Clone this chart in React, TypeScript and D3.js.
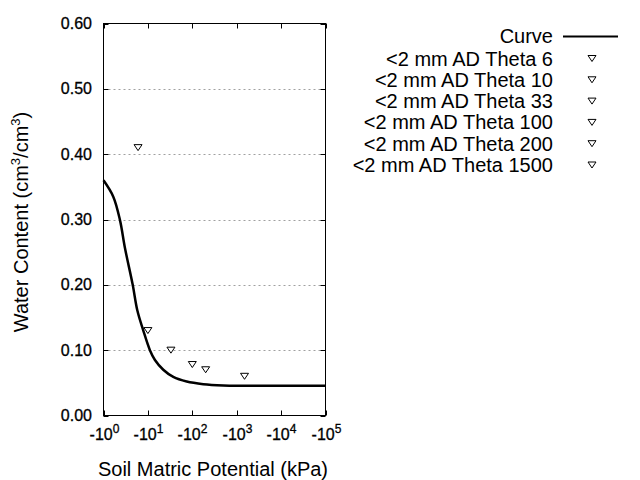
import React from "react";
import * as d3 from "d3";

const curveH = [1, 1.66, 2.35, 3.05, 4.55, 5.77, 7.88, 11.1, 14.4, 22.2, 37.3, 74.8, 177, 499, 1180, 100000];
const curveTheta = [0.36, 0.335, 0.299, 0.256, 0.2, 0.161, 0.13, 0.1, 0.085, 0.07, 0.059, 0.052, 0.048, 0.046, 0.0455, 0.0455];

const pointH = [6, 10, 33, 100, 200, 1500];
const pointTheta = [0.41, 0.13, 0.1, 0.078, 0.07, 0.06];

const legendLabels = [
  "<2 mm AD Theta 6",
  "<2 mm AD Theta 10",
  "<2 mm AD Theta 33",
  "<2 mm AD Theta 100",
  "<2 mm AD Theta 200",
  "<2 mm AD Theta 1500",
];

const xTickExps = [0, 1, 2, 3, 4, 5];
const yTicks = [0, 0.1, 0.2, 0.3, 0.4, 0.5, 0.6];

const FONT = "'Liberation Sans', Arial, sans-serif";

export default function App() {
  const left = 103.5, right = 325.5, top = 23.5, bottom = 415.5;
  const x = d3.scaleLog().domain([1, 1e5]).range([left, right]);
  const y = d3.scaleLinear().domain([0, 0.6]).range([bottom, top]);
  const line = d3
    .line<number>()
    .x((_, i) => x(curveH[i]))
    .y((d) => y(d))
    .curve(d3.curveCatmullRom.alpha(0.5));

  const tri = (cx: number, cy: number) =>
    `M${cx - 4},${cy - 3}L${cx + 4},${cy - 3}L${cx},${cy + 3}Z`;

  return (
    <svg width={640} height={480} style={{ position: "absolute", left: 0, top: 0, background: "#fff" }} fontFamily={FONT}>
      <rect width={640} height={480} fill="#fff" />
      {yTicks.slice(1, 6).map((t) => (
        <line key={"g" + t} x1={left} x2={right} y1={Math.round(y(t)) + 0.5} y2={Math.round(y(t)) + 0.5} stroke="#a0a0a0" strokeDasharray="2,3" strokeWidth={1} />
      ))}
      {yTicks.map((t) => (
        <g key={"y" + t}>
          <line x1={left} x2={left + 5} y1={Math.round(y(t)) + 0.5} y2={Math.round(y(t)) + 0.5} stroke="#000" />
          <line x1={right - 5} x2={right} y1={Math.round(y(t)) + 0.5} y2={Math.round(y(t)) + 0.5} stroke="#000" />
          <text x={92} y={y(t) + 5.5} textAnchor="end" fontSize={16} fill="#000" stroke="#000" strokeWidth={0.3}>
            {t.toFixed(2)}
          </text>
        </g>
      ))}
      {xTickExps.map((e) => {
        const px = Math.round(x(Math.pow(10, e))) + 0.5;
        return (
          <g key={"x" + e}>
            <line x1={px} x2={px} y1={bottom} y2={bottom - 5} stroke="#000" />
            <line x1={px} x2={px} y1={top} y2={top + 5} stroke="#000" />
            <text x={px} y={440} textAnchor="middle" fontSize={16} fill="#000" stroke="#000" strokeWidth={0.3}>
              -10
              <tspan dy={-7} fontSize={12}>{e}</tspan>
            </text>
          </g>
        );
      })}
      <rect x={left} y={top} width={right - left} height={bottom - top} fill="none" stroke="#000" strokeWidth={1} />
      <path d={line(curveTheta) || ""} fill="none" stroke="#000" strokeWidth={2.5} />
      {pointH.map((h, i) => (
        <path key={"p" + i} d={tri(x(h), y(pointTheta[i]))} fill="#fff" stroke="#000" strokeWidth={1} />
      ))}
      <text x={213} y={476} textAnchor="middle" fontSize={20} fill="#000">
        Soil Matric Potential (kPa)
      </text>
      <text transform="translate(28,222) rotate(-90)" textAnchor="middle" fontSize={20} fill="#000">
        Water Content (cm<tspan dy={-8} fontSize={13}>3</tspan>
        <tspan dy={8}>/cm</tspan>
        <tspan dy={-8} fontSize={13}>3</tspan>
        <tspan dy={8}>)</tspan>
      </text>
      <text x={553} y={43} textAnchor="end" fontSize={20} fill="#000">Curve</text>
      <line x1={563} x2={618} y1={36.5} y2={36.5} stroke="#000" strokeWidth={2} />
      {legendLabels.map((l, i) => {
        const cy = 58.5 + i * 21.3;
        return (
          <g key={"l" + i}>
            <text x={553} y={cy + 7} textAnchor="end" fontSize={20} fill="#000">{l}</text>
            <path d={tri(592, cy)} fill="#fff" stroke="#000" strokeWidth={1} />
          </g>
        );
      })}
    </svg>
  );
}
